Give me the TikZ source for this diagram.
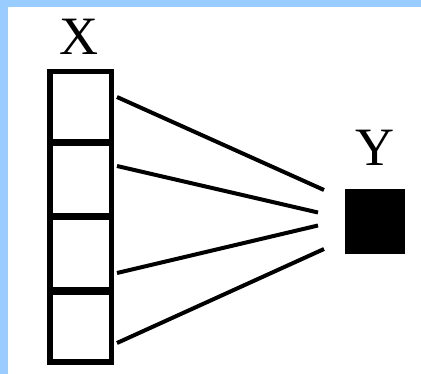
\documentclass[tikz,border=0pt]{standalone}
\usepackage{fontspec}
\setmainfont{Liberation Serif}
\definecolor{frameblue}{RGB}{153,204,255}
\tikzset{
  cell/.style={rectangle, inner sep=0pt, outer sep=0pt, minimum width=61.5pt, draw=none},
  outerline/.style={line width=5.5pt},
  divider/.style={line width=7.5pt},
  link/.style={line width=4pt},
  lbl/.style={font=\fontsize{54}{54}\selectfont, inner sep=0pt, anchor=base},
  ybox/.style={rectangle, fill=black, inner sep=0pt, minimum width=60pt, minimum height=65pt}
}
\begin{document}
\begin{tikzpicture}[x=1pt,y=-1pt]
\useasboundingbox (0,0) rectangle (421,374);
\fill[white] (0,0) rectangle (421,374);
\fill[frameblue] (0,0) rectangle (421,7);
\fill[frameblue] (0,0) rectangle (8,374);
% cells
\node[cell, minimum height=70.75pt] (x1) at (80.5,107.125) {};
\node[cell, minimum height=74pt] (x2) at (80.5,179.5) {};
\node[cell, minimum height=74.5pt] (x3) at (80.5,253.75) {};
\node[cell, minimum height=71.25pt] (x4) at (80.5,326.625) {};
\draw[outerline] (x1.north west) rectangle (x4.south east);
\draw[divider] (x1.south west) -- (x1.south east);
\draw[divider] (x2.south west) -- (x2.south east);
\draw[divider] (x3.south west) -- (x3.south east);
% labels
\node[lbl] (lx) at (79,55) {X};
\node[lbl] (ly) at (375,166) {Y};
% output
\node[ybox] (y) at (375,221.5) {};
% connectors
\coordinate (s1) at (117,97);
\coordinate (s2) at (117,166);
\coordinate (s3) at (117,273);
\coordinate (s4) at (117,343);
\coordinate (e1) at (324,190);
\coordinate (e2) at (318,212.5);
\coordinate (e3) at (318,225.5);
\coordinate (e4) at (324,249);
\draw[link] (s1) -- (e1);
\draw[link] (s2) -- (e2);
\draw[link] (s3) -- (e3);
\draw[link] (s4) -- (e4);
\end{tikzpicture}
\end{document}
